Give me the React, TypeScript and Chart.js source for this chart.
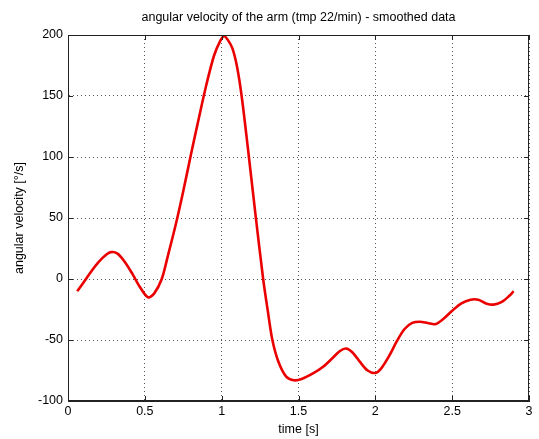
import React, { useEffect, useRef } from "react";
import { Chart, registerables } from "chart.js";

Chart.register(...registerables);

const timeS: number[] = [
  0.06, 0.1, 0.15, 0.2, 0.25, 0.28, 0.32, 0.37, 0.42, 0.47, 0.52, 0.56, 0.61, 0.65, 0.7, 0.75,
  0.8, 0.85, 0.9, 0.95, 0.99, 1.015, 1.04, 1.07, 1.1, 1.13, 1.17, 1.22, 1.27, 1.3, 1.33,
  1.37, 1.42, 1.47, 1.52, 1.6, 1.66, 1.72, 1.77, 1.81, 1.85, 1.9, 1.95, 2.0, 2.04, 2.09, 2.14,
  2.19, 2.24, 2.29, 2.34, 2.39, 2.44, 2.5, 2.56, 2.62, 2.67, 2.72, 2.77, 2.82, 2.87, 2.9,
];
const angVel: number[] = [
  -10, -3, 6, 14, 20, 22, 21, 14, 4, -7, -15, -12, 0, 19, 44, 72,
  102, 131, 159, 183, 195, 199, 196, 189, 174, 150, 108, 53, 0, -26, -50,
  -68, -80, -83, -82, -77, -72, -65, -59, -57, -60, -68, -75, -77, -73, -63, -51,
  -41, -36, -35, -36, -37, -33, -26, -20, -17, -17, -20, -21, -19, -14, -10,
];
const xTicks = { min: 0, max: 3, step: 0.5 };
const yTicks = { min: -100, max: 200, step: 50 };

const titleText = "angular velocity of the arm (tmp 22/min) - smoothed data";
const xLabel = "time [s]";
const yLabel = "angular velocity [°/s]";

const FONT = "'Liberation Sans', Arial, sans-serif";

const boxPlugin = {
  id: "matlabBox",
  afterDraw(chart: any) {
    const { ctx, chartArea } = chart;
    const { left, right, top, bottom } = chartArea;
    ctx.save();
    ctx.strokeStyle = "#222";
    ctx.lineWidth = 1;
    ctx.strokeRect(left + 0.5, top + 0.5, right - left - 1, bottom - top - 1);
    const xs = chart.scales.x;
    const ys = chart.scales.y;
    ctx.beginPath();
    xs.ticks.forEach((t: any) => {
      const px = Math.round(xs.getPixelForValue(t.value)) + 0.5;
      ctx.moveTo(px, bottom);
      ctx.lineTo(px, bottom - 5);
      ctx.moveTo(px, top);
      ctx.lineTo(px, top + 5);
    });
    ys.ticks.forEach((t: any) => {
      const py = Math.round(ys.getPixelForValue(t.value)) + 0.5;
      ctx.moveTo(left, py);
      ctx.lineTo(left + 5, py);
      ctx.moveTo(right, py);
      ctx.lineTo(right - 5, py);
    });
    ctx.stroke();
    ctx.fillStyle = "#000";
    ctx.font = `12.5px ${FONT}`;
    ctx.textAlign = "center";
    ctx.textBaseline = "middle";
    ctx.fillText(titleText, (left + right) / 2, 18);
    ctx.restore();
  },
};

export default function App() {
  const ref = useRef<HTMLCanvasElement | null>(null);
  useEffect(() => {
    document.body.style.margin = "0";
    const canvas = ref.current!;
    const data = timeS.map((x, i) => ({ x, y: angVel[i] }));
    const chart = new Chart(canvas, {
      type: "line",
      data: {
        datasets: [
          {
            data,
            borderColor: "rgb(235,0,0)",
            borderWidth: 2.6,
            pointRadius: 0,
            tension: 0.3,
            fill: false,
          },
        ],
      },
      options: {
        animation: false,
        responsive: false,
        devicePixelRatio: 1,
        layout: { padding: { left: 0, top: 35, right: 10, bottom: 0 } },
        plugins: { legend: { display: false }, tooltip: { enabled: false }, title: { display: false } },
        scales: {
          x: {
            type: "linear",
            min: xTicks.min,
            max: xTicks.max,
            ticks: {
              stepSize: xTicks.step,
              color: "#000",
              padding: 3,
              font: { family: FONT, size: 12.5 },
              maxRotation: 0,
              callback: (v: any) => String(Number(v)),
            },
            grid: { color: "#555", drawTicks: false, lineWidth: 1 },
            border: { display: true, color: "#222", dash: [1, 3] },
            title: { display: true, text: xLabel, color: "#000", font: { family: FONT, size: 12.5 }, padding: { top: 2, bottom: 2 } },
            afterFit(scale: any) {
              scale.height = 38;
            },
          },
          y: {
            type: "linear",
            min: yTicks.min,
            max: yTicks.max,
            ticks: { stepSize: yTicks.step, color: "#000", padding: 5, font: { family: FONT, size: 12.5 } },
            grid: { color: "#555", drawTicks: false, lineWidth: 1 },
            border: { display: true, color: "#222", dash: [1, 3] },
            title: { display: true, text: yLabel, color: "#000", font: { family: FONT, size: 12.5 }, padding: { top: 12, bottom: 2 } },
            afterFit(scale: any) {
              scale.width = 68;
            },
          },
        },
      },
      plugins: [boxPlugin],
    } as any);
    return () => chart.destroy();
  }, []);
  return (
    <div style={{ width: 539, height: 439, background: "#fff" }}>
      <canvas ref={ref} width={539} height={439} style={{ display: "block" }} />
    </div>
  );
}
